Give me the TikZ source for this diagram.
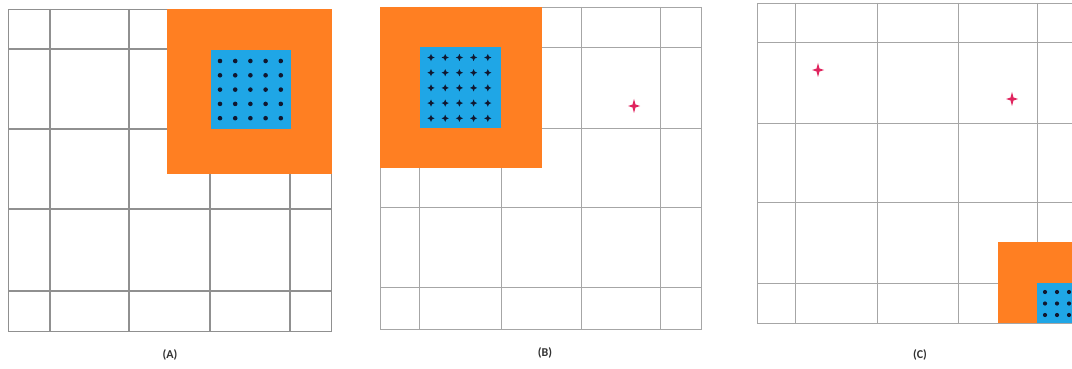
\documentclass[tikz,border=0pt]{standalone}
\usepackage{fontspec}
\setmainfont{Carlito}
\definecolor{orng}{HTML}{FF7F22}
\definecolor{blu}{HTML}{1FA6E6}
\definecolor{starc}{HTML}{E0245E}
\definecolor{dotc}{HTML}{101830}
\definecolor{gridcA}{HTML}{909090}
\definecolor{gridcB}{HTML}{A6A6A6}
\tikzset{
  gridA/.style={draw=gridcA, line width=1.2pt},
  gridB/.style={draw=gridcB, line width=0.8pt},
  orangebox/.style={fill=orng, draw=none},
  bluebox/.style={fill=blu, draw=none},
  dotmark/.style={fill=dotc},
  panellabel/.style={font=\fontsize{12}{14}\selectfont\bfseries, text=black!80, inner sep=0pt},
  sparkle/.pic={\fill[starc] (0,-7) -- (1.5,-1.5) -- (6,0) -- (1.5,1.5) -- (0,7) -- (-1.5,1.5) -- (-6,0) -- (-1.5,-1.5) -- cycle;},
  smallstar/.pic={\fill[dotc] (0,-3.6) -- (1.1,-1.1) -- (3.6,0) -- (1.1,1.1) -- (0,3.6) -- (-1.1,1.1) -- (-3.6,0) -- (-1.1,-1.1) -- cycle;}
}
\begin{document}
\begin{tikzpicture}[x=1pt,y=-1pt]
\useasboundingbox (0,0) rectangle (1072,369);
\clip (0,0) rectangle (1072,369);
\fill[white] (0,0) rectangle (1072,369);

% ---------- Panel A ----------
\node[gridA, rectangle, minimum width=323pt, minimum height=322pt, inner sep=0pt, anchor=north west] (frameA) at (8,9) {};
\foreach \x in {50,129,210,290} \draw[gridA] (\x,9) -- (\x,331);
\foreach \y in {49,129,209,291} \draw[gridA] (8,\y) -- (331,\y);
\fill[orangebox] (167,9) rectangle (331.6,174);
\fill[bluebox] (211,50) rectangle (291,129);
\foreach \i in {0,...,4} \foreach \j in {0,...,4}
  \fill[dotmark] (220+15.2*\i, 61+14.3*\j) circle (2.3);
\node[panellabel] (labA) at (170,355) {(A)};

% ---------- Panel B ----------
\node[gridB, rectangle, minimum width=321pt, minimum height=322pt, inner sep=0pt, anchor=north west] (frameB) at (380,7) {};
\foreach \x in {419,501,581,660} \draw[gridB] (\x,7) -- (\x,329);
\foreach \y in {47,128,207,287} \draw[gridB] (380,\y) -- (701,\y);
\fill[orangebox] (379.6,6.6) rectangle (542,168);
\fill[bluebox] (420,47) rectangle (501,128);
\foreach \i in {0,...,4} \foreach \j in {0,...,4}
  \pic at (431+14.2*\i, 57.5+15.2*\j) {smallstar};
\pic at (634,106) {sparkle};
\node[panellabel] (labB) at (545,353) {(B)};

% ---------- Panel C ----------
\node[gridB, rectangle, minimum width=321pt, minimum height=320pt, inner sep=0pt, anchor=north west] (frameC) at (757,3) {};
\foreach \x in {795,877,958,1037} \draw[gridB] (\x,3) -- (\x,323);
\foreach \y in {42,123,202,283} \draw[gridB] (757,\y) -- (1078,\y);
\fill[orangebox] (998,242) rectangle (1080,323.4);
\fill[bluebox] (1037,283) rectangle (1080,323.4);
\foreach \i in {0,...,2} \foreach \j in {0,...,2}
  \fill[dotmark] (1045+12*\i, 292+11.5*\j) circle (2.1);
\pic at (818,70) {sparkle};
\pic at (1012,99) {sparkle};
\node[panellabel] (labC) at (920,355) {(C)};
\end{tikzpicture}
\end{document}
